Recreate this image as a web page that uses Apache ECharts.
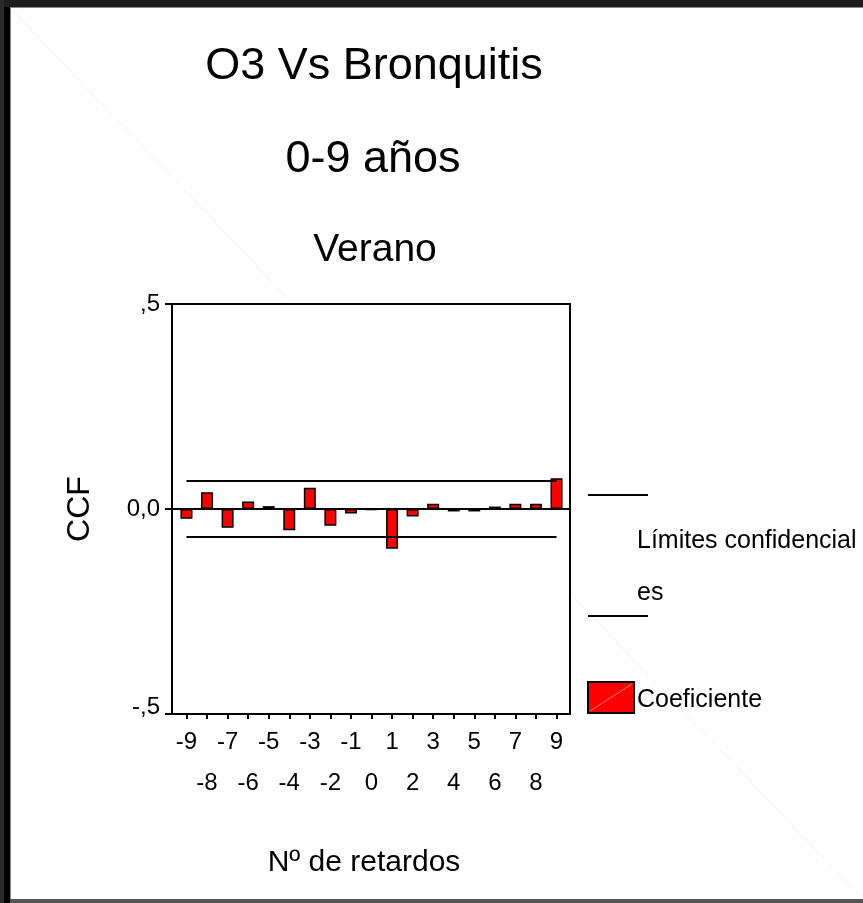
<!DOCTYPE html>
<html>
<head>
<meta charset="utf-8">
<script src="https://cdn.jsdelivr.net/npm/echarts@6/dist/echarts.min.js"></script>
<style>
  html, body { margin: 0; padding: 0; background: #fff; }
  #chart { width: 863px; height: 903px; }
</style>
</head>
<body>
<div id="chart"></div>
<script>
// Cross-correlation of O3 vs bronchitis (ages 0-9, summer), lags -9..9
const lags = [-9, -8, -7, -6, -5, -4, -3, -2, -1, 0, 1, 2, 3, 4, 5, 6, 7, 8, 9];
const ccf = [-0.024, 0.041, -0.046, 0.018, 0.007, -0.052, 0.052, -0.041, -0.011, -0.002,
             -0.097, -0.018, 0.013, -0.006, -0.006, 0.006, 0.013, 0.013, 0.075];
const confLimit = 0.068;
const yTickLabels = { '0.5': ',5', '0': '0,0', '-0.5': '{low|-,5}' };

const upperLimit = lags.map(() => confLimit);
const lowerLimit = lags.map(() => -confLimit);

const FONT = "'Liberation Sans', Arial, Helvetica, sans-serif";
const chart = echarts.init(document.getElementById('chart'), null, { renderer: 'canvas' });

const txt = (x, y, text, size, align, extra) => Object.assign({
  type: 'text', x: x, y: y, z: 10,
  style: { text: text, fontSize: size, fontFamily: FONT, fill: '#000',
           align: align || 'center', verticalAlign: 'middle' }
}, extra || {});

chart.setOption({
  animation: false,
  backgroundColor: '#fff',
  textStyle: { fontFamily: FONT, color: '#000' },
  grid: [
    { left: 172, top: 304, width: 398, height: 410, show: true,
      backgroundColor: '#fff', borderColor: '#000', borderWidth: 2 },
    { left: 176.2, top: 304, width: 390.6, height: 410 }
  ],
  xAxis: [
    { gridIndex: 0, type: 'category', data: lags,
      axisLine: { show: true, onZero: true, lineStyle: { color: '#000', width: 2 } },
      axisTick: { show: false }, axisLabel: { show: false }, splitLine: { show: false } },
    { gridIndex: 1, type: 'category', data: lags, position: 'bottom',
      axisLine: { show: false, onZero: false },
      axisTick: { show: true, alignWithLabel: true, length: 5,
                  lineStyle: { color: '#000', width: 2 } },
      axisLabel: { interval: 0, hideOverlap: false, margin: 8, fontSize: 24,
                   lineHeight: 41, color: '#000', fontFamily: FONT,
                   formatter: (v, i) => (i % 2 === 0 ? String(v) : '\n' + v) },
      splitLine: { show: false } }
  ],
  yAxis: [
    { gridIndex: 0, type: 'value', min: -0.5, max: 0.5, interval: 0.5,
      axisLine: { show: true, lineStyle: { color: '#000', width: 2 } },
      axisTick: { show: true, length: 7, lineStyle: { color: '#000', width: 2 } },
      axisLabel: { margin: 12, fontSize: 24, color: '#000', fontFamily: FONT,
                   formatter: v => yTickLabels[String(v)],
                   rich: { low: { fontSize: 24, fontFamily: FONT, color: '#000',
                                  padding: [0, 0, 14, 0] } } },
      splitLine: { show: false } },
    { gridIndex: 1, type: 'value', min: -0.5, max: 0.5, show: false, splitLine: { show: false } }
  ],
  series: [
    { name: 'Coeficiente', type: 'bar', xAxisIndex: 1, yAxisIndex: 1,
      data: ccf, barWidth: 12, z: 3,
      itemStyle: { color: '#ff0000', borderColor: '#000', borderWidth: 1.5 } },
    { name: 'Límites confidenciales', type: 'line', xAxisIndex: 1, yAxisIndex: 1,
      data: upperLimit, symbol: 'none', z: 4,
      lineStyle: { color: '#000', width: 2 } },
    { name: 'Límites confidenciales', type: 'line', xAxisIndex: 1, yAxisIndex: 1,
      data: lowerLimit, symbol: 'none', z: 4,
      lineStyle: { color: '#000', width: 2 } }
  ],
  graphic: [
    // faint diagonal across the sheet
    { type: 'line', z: -10, shape: { x1: 10, y1: 8, x2: 863, y2: 899 },
      style: { stroke: '#f0f0f0', lineWidth: 1 } },
    // dark frame
    { type: 'rect', z: 20, shape: { x: 0, y: 0, width: 863, height: 7 }, style: { fill: '#1e1e1e' } },
    { type: 'rect', z: 20, shape: { x: 0, y: 7, width: 863, height: 1 }, style: { fill: '#8a8a8a' } },
    { type: 'rect', z: 20, shape: { x: 0, y: 0, width: 4, height: 903 }, style: { fill: '#2a2a2a' } },
    { type: 'rect', z: 20, shape: { x: 4, y: 7, width: 6, height: 896 }, style: { fill: '#000' } },
    { type: 'rect', z: 20, shape: { x: 10, y: 8, width: 1, height: 891 }, style: { fill: '#8a8a8a' } },
    { type: 'rect', z: 20, shape: { x: 10, y: 899, width: 853, height: 4 }, style: { fill: '#555' } },
    // titles
    txt(374, 67, 'O3 Vs Bronquitis', 45),
    txt(373, 160, '0-9 años', 45),
    txt(375, 250, 'Verano', 39),
    txt(80, 509, 'CCF', 32, 'center', { rotation: Math.PI / 2 }),
    txt(364, 863, 'Nº de retardos', 30),
    // legend
    { type: 'line', z: 10, shape: { x1: 588, y1: 495, x2: 648, y2: 495 }, style: { stroke: '#000', lineWidth: 2 } },
    { type: 'line', z: 10, shape: { x1: 588, y1: 616, x2: 648, y2: 616 }, style: { stroke: '#000', lineWidth: 2 } },
    txt(637, 541, 'Límites confidencial', 25, 'left'),
    txt(637, 593, 'es', 25, 'left'),
    { type: 'rect', z: 10, shape: { x: 588, y: 682, width: 46, height: 31 },
      style: { fill: '#ff0000', stroke: '#000', lineWidth: 2 } },
    { type: 'line', z: 11, shape: { x1: 590, y1: 711, x2: 632, y2: 684 },
      style: { stroke: '#ff8080', lineWidth: 1 } },
    txt(637, 700, 'Coeficiente', 25, 'left')
  ]
});
</script>
</body>
</html>
